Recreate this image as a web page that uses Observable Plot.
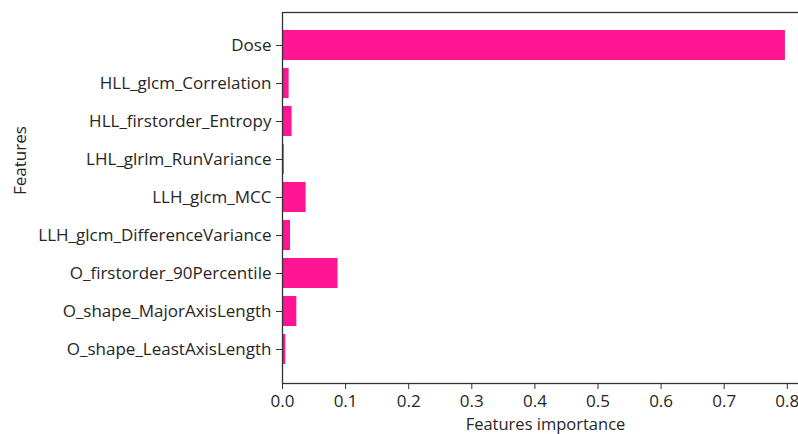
<!DOCTYPE html>
<html>
<head>
<meta charset="utf-8">
<script src="https://cdn.jsdelivr.net/npm/d3@7"></script>
<script src="https://cdn.jsdelivr.net/npm/@observablehq/plot@0.6"></script>
<style>
  html, body { margin: 0; padding: 0; background: #fff; }
  #chart svg { display: block; }
</style>
</head>
<body>
<div id="chart"></div>
<script>
const features = [
  "Dose",
  "HLL_glcm_Correlation",
  "HLL_firstorder_Entropy",
  "LHL_glrlm_RunVariance",
  "LLH_glcm_MCC",
  "LLH_glcm_DifferenceVariance",
  "O_firstorder_90Percentile",
  "O_shape_MajorAxisLength",
  "O_shape_LeastAxisLength"
];
const importance = [0.797, 0.0105, 0.0152, 0.0028, 0.0374, 0.0127, 0.088, 0.0227, 0.0052];
const xTicks = [0, 0.1, 0.2, 0.3, 0.4, 0.5, 0.6, 0.7, 0.8];
const xTitle = "Features importance";
const yTitle = "Features";

const data = features.map((f, i) => ({feature: f, value: importance[i]}));

const font = "'Open Sans', sans-serif";
const W = 798, H = 434;
const mL = 282, mR = -2;
const pxPerUnit = 631;
const xMax = (W - mR - mL) / pxPerUnit;

const chart = Plot.plot({
  width: W,
  height: H,
  marginLeft: mL,
  marginRight: mR,
  marginTop: 12,
  marginBottom: 51,
  style: {fontFamily: font, fontSize: "17px", color: "#262626", background: "#fff", overflow: "visible"},
  x: {domain: [0, xMax]},
  y: {domain: features, paddingInner: 0.2, paddingOuter: 0.44},
  marks: [
    Plot.barX(data, {y: "feature", x: "value", fill: "#ff1493"}),
    Plot.frame({stroke: "#333", strokeWidth: 1.3}),
    Plot.axisX({ticks: xTicks, tickFormat: d3.format(".1f"), tickSize: 6, tickPadding: 5, stroke: "#333",
      label: null, fontSize: 17}),
    Plot.axisY({tickSize: 6, tickPadding: 5, stroke: "#333", label: null, fontSize: 17}),
    Plot.text([xTitle], {text: d => d, frameAnchor: "bottom", dx: 4, dy: 41, lineAnchor: "middle",
      fontSize: 16.5, fill: "#262626"}),
    Plot.text([yTitle], {text: d => d, frameAnchor: "left", dx: -257, dy: -3, rotate: -90, lineAnchor: "bottom",
      fontSize: 17, fill: "#262626"})
  ]
});
document.getElementById("chart").appendChild(chart);
</script>
</body>
</html>
